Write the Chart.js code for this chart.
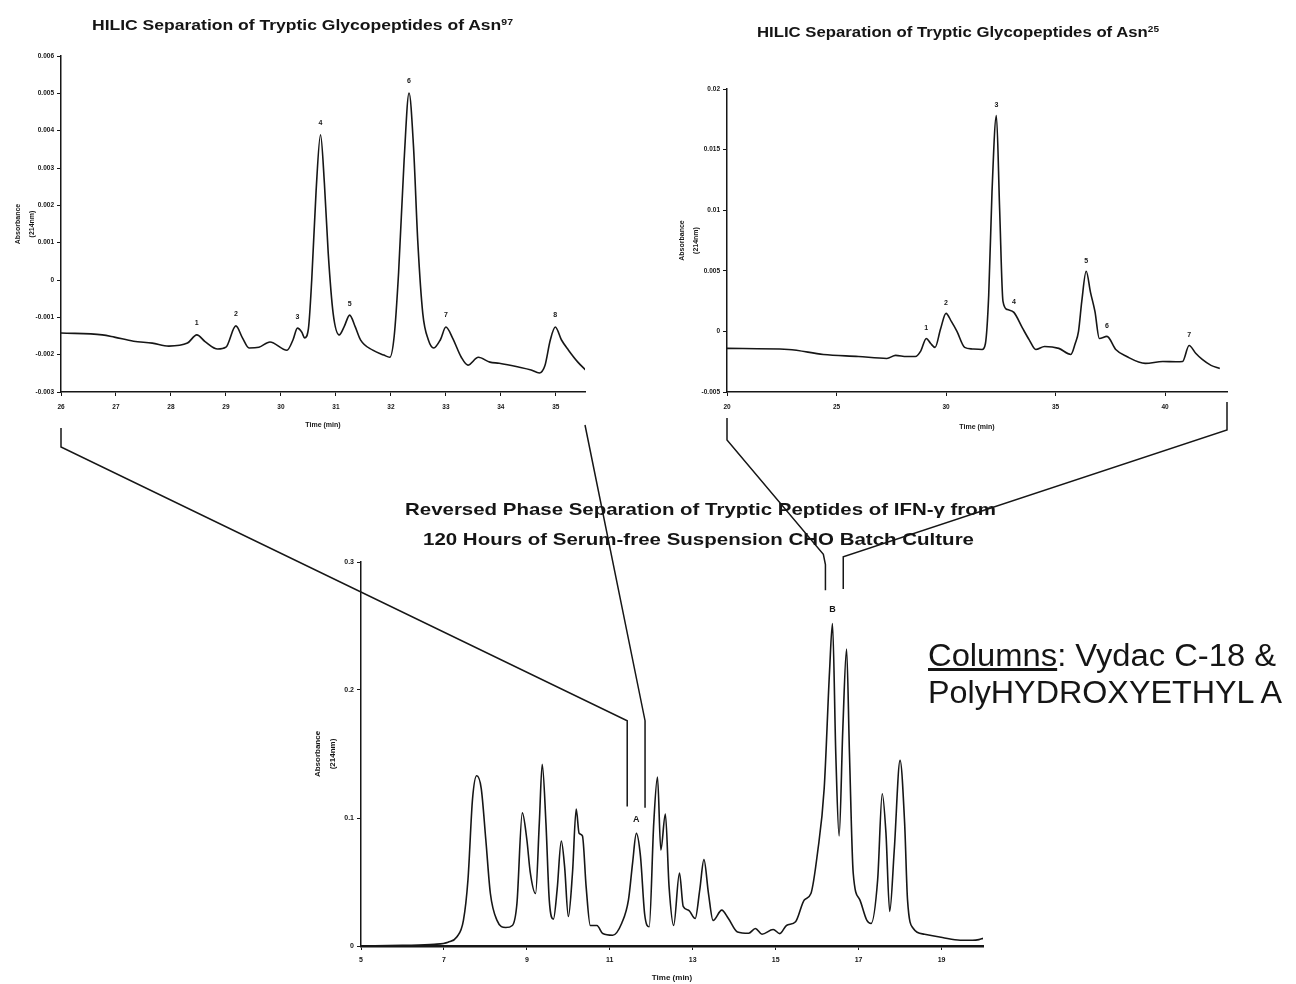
<!DOCTYPE html>
<html>
<head>
<meta charset="utf-8">
<script src="https://cdn.jsdelivr.net/npm/chart.js@4.4.1/dist/chart.umd.min.js"></script>
<style>
  body { margin: 0; background: #fff; }
  #page { position: relative; width: 1296px; height: 984px; overflow: hidden; font-family: "Liberation Sans", Arial, sans-serif; color: #151515; }
  #page canvas { position: absolute; }
  .txt { position: absolute; white-space: nowrap; line-height: 1; transform-origin: left center; }
  .b { font-weight: bold; }
  sup { font-size: 0.6em; vertical-align: 0.6em; line-height: 0; }
</style>
</head>
<body>
<div id="page">
  <canvas id="hilic97" width="600" height="404" style="left:0;top:36px;width:600px;height:404px"></canvas>
  <canvas id="hilic25" width="585" height="380" style="left:660px;top:60px;width:585px;height:380px"></canvas>
  <canvas id="rp" width="716" height="439" style="left:284px;top:545px;width:716px;height:439px"></canvas>
  <canvas id="links" width="1296" height="984" style="left:0;top:0;width:1296px;height:984px;pointer-events:none"></canvas>

  <div class="txt b" data-w="421" style="left:92px;top:17px;font-size:15px">HILIC Separation of Tryptic Glycopeptides of Asn<sup>97</sup></div>
  <div class="txt b" data-w="402" style="left:757px;top:24px;font-size:15px">HILIC Separation of Tryptic Glycopeptides of Asn<sup>25</sup></div>
  <div class="txt b" data-w="591" style="left:405px;top:501px;font-size:17px">Reversed Phase Separation of Tryptic Peptides of IFN-γ from</div>
  <div class="txt b" data-w="551" style="left:423px;top:531px;font-size:17px">120 Hours of Serum-free Suspension CHO Batch Culture</div>
  <div class="txt" data-w="348" style="left:928px;top:640px;font-size:31px"><u>Columns</u>: Vydac C-18 &amp;</div>
  <div class="txt" data-w="354" style="left:928px;top:677px;font-size:31px">PolyHYDROXYETHYL A</div>
</div>
<script>
// HILIC, Asn97 glycopeptides
const leftTime = [26.00, 26.75, 26.97, 27.32, 27.66, 27.96, 28.30, 28.47, 28.62, 28.85, 29.00, 29.18, 29.30, 29.42, 29.60, 29.80,
  30.11, 30.22, 30.30, 30.38, 30.43, 30.50, 30.56, 30.64, 30.72, 30.79, 30.86, 30.95, 31.06, 31.15, 31.25, 31.35, 31.45, 31.67,
  31.87, 31.98, 32.06, 32.14, 32.24, 32.33, 32.41, 32.49, 32.58, 32.68, 32.78, 32.90, 33.00, 33.12, 33.28, 33.40, 33.59, 33.80,
  33.97, 34.32, 34.55, 34.70, 34.80, 34.90, 34.99, 35.10, 35.23, 35.40, 35.54];
const leftAbs = [-0.00142, -0.00147, -0.00153, -0.00164, -0.00169, -0.00177, -0.00169, -0.00147, -0.00165, -0.00185, -0.00180,
  -0.00123, -0.00155, -0.00182, -0.00180, -0.00166, -0.00188, -0.00160, -0.00129, -0.00140, -0.00155, -0.00130, 0.00000, 0.00240,
  0.00389, 0.00260, 0.00072, -0.00090, -0.00147, -0.00125, -0.00094, -0.00125, -0.00161, -0.00188, -0.00201, -0.00207, -0.00150,
  0.00020, 0.00320, 0.00501, 0.00360, 0.00100, -0.00090, -0.00160, -0.00182, -0.00160, -0.00126, -0.00155, -0.00207, -0.00228,
  -0.00207, -0.00220, -0.00223, -0.00233, -0.00241, -0.00249, -0.00230, -0.00160, -0.00126, -0.00160, -0.00188, -0.00220, -0.00241];
const leftXTicks = [26, 27, 28, 29, 30, 31, 32, 33, 34, 35];
const leftYTicks = [-0.003, -0.002, -0.001, 0, 0.001, 0.002, 0.003, 0.004, 0.005, 0.006];
const leftPeakTimes = [28.47, 29.18, 30.30, 30.72, 31.25, 32.33, 33.00, 34.99];
const leftPeakNames = ["1", "2", "3", "4", "5", "6", "7", "8"];

// HILIC, Asn25 glycopeptides
const rightTime = [20.0, 22.8, 24.4, 26.0, 27.3, 27.7, 28.2, 28.6, 28.85, 29.1, 29.3, 29.5, 29.75, 30.0, 30.25, 30.5, 30.85, 31.2,
  31.65, 31.8, 31.95, 32.1, 32.3, 32.45, 32.6, 32.8, 33.1, 33.5, 33.8, 34.1, 34.5, 35.15, 35.7, 35.9, 36.05, 36.2, 36.4, 36.6,
  36.8, 37.0, 37.35, 37.75, 38.25, 39.1, 39.9, 40.5, 40.8, 41.1, 41.4, 41.7, 42.1, 42.5];
const rightAbs = [-0.00140, -0.00149, -0.00190, -0.00207, -0.00223, -0.00198, -0.00207, -0.00207, -0.00160, -0.00058, -0.00100,
  -0.00132, 0.00020, 0.00149, 0.00080, 0.00000, -0.00132, -0.00145, -0.00149, -0.00100, 0.00300, 0.01150, 0.01780, 0.01000,
  0.00250, 0.00180, 0.00157, 0.00025, -0.00070, -0.00149, -0.00124, -0.00140, -0.00190, -0.00100, 0.00000, 0.00250, 0.00496,
  0.00320, 0.00165, -0.00058, -0.00041, -0.00149, -0.00207, -0.00264, -0.00248, -0.00250, -0.00248, -0.00116, -0.00180,
  -0.00231, -0.00280, -0.00306];
const rightXTicks = [20, 25, 30, 35, 40];
const rightYTicks = [-0.005, 0, 0.005, 0.01, 0.015, 0.02];
const rightPeakTimes = [29.1, 30.0, 32.3, 33.1, 36.4, 37.35, 41.1];
const rightPeakNames = ["1", "2", "3", "4", "5", "6", "7"];

// reversed phase, whole digest
const rpTime = [5.00, 6.00, 6.77, 7.10, 7.31, 7.47, 7.58, 7.69, 7.79, 7.90, 8.01, 8.12, 8.28, 8.49, 8.65, 8.76, 8.89, 9.00,
  9.08, 9.21, 9.30, 9.37, 9.46, 9.54, 9.64, 9.73, 9.83, 9.91, 10.00, 10.10, 10.19, 10.26, 10.34, 10.43, 10.53, 10.69, 10.83,
  11.07, 11.29, 11.45, 11.55, 11.64, 11.74, 11.84, 11.95, 12.06, 12.15, 12.23, 12.34, 12.43, 12.54, 12.68, 12.77, 12.90, 13.06,
  13.17, 13.27, 13.38, 13.49, 13.70, 13.86, 14.08, 14.35, 14.51, 14.67, 14.94, 15.10, 15.26, 15.48, 15.69, 15.85, 16.01, 16.17,
  16.30, 16.37, 16.45, 16.53, 16.62, 16.71, 16.78, 16.87, 17.03, 17.20, 17.30, 17.46, 17.57, 17.66, 17.75, 17.86, 18.00, 18.11,
  18.18, 18.32, 18.59, 19.02, 19.45, 19.75, 19.90, 20.00];
const rpAbs = [0, 0.0005, 0.0013, 0.003, 0.007, 0.020, 0.052, 0.115, 0.133, 0.123, 0.083, 0.041, 0.020, 0.0144, 0.016, 0.033,
  0.104, 0.083, 0.058, 0.041, 0.096, 0.142, 0.096, 0.036, 0.021, 0.044, 0.082, 0.062, 0.023, 0.057, 0.107, 0.088, 0.086, 0.046,
  0.016, 0.016, 0.0097, 0.0084, 0.018, 0.036, 0.065, 0.088, 0.070, 0.025, 0.015, 0.096, 0.132, 0.075, 0.103, 0.046, 0.016,
  0.057, 0.031, 0.028, 0.0215, 0.044, 0.0675, 0.041, 0.020, 0.028, 0.0215, 0.011, 0.010, 0.0137, 0.0092, 0.0129, 0.0097, 0.016,
  0.019, 0.036, 0.041, 0.073, 0.123, 0.215, 0.252, 0.150, 0.086, 0.170, 0.232, 0.150, 0.057, 0.036, 0.020, 0.0176, 0.052,
  0.119, 0.088, 0.027, 0.075, 0.145, 0.096, 0.036, 0.0137, 0.0092, 0.0066, 0.0045, 0.0045, 0.0050, 0.0060];
const rpXTicks = [5, 7, 9, 11, 13, 15, 17, 19];
const rpYTicks = [0, 0.1, 0.2, 0.3];
const rpPeakTimes = [11.64, 16.37];
const rpPeakNames = ["A", "B"];

const INK = "#161616";
Chart.defaults.font.family = '"Liberation Sans", Arial, sans-serif';
Chart.defaults.color = INK;
Chart.defaults.animation = false;

// writes a number above the nearest point of each labelled peak
const peakLabels = {
  id: "peakLabels",
  afterDatasetsDraw(chart, args, opts) {
    const ctx = chart.ctx;
    const pts = chart.data.datasets[0].data;
    ctx.save();
    ctx.font = opts.font;
    ctx.fillStyle = INK;
    ctx.textAlign = "center";
    ctx.textBaseline = "bottom";
    opts.times.forEach((t, i) => {
      let best = pts[0];
      pts.forEach(p => { if (Math.abs(p.x - t) < Math.abs(best.x - t)) best = p; });
      ctx.fillText(opts.names[i], chart.scales.x.getPixelForValue(t), chart.scales.y.getPixelForValue(best.y) - opts.gap);
    });
    ctx.restore();
  }
};

function trace(times, vals) {
  return [{
    data: times.map((t, i) => ({ x: t, y: vals[i] })),
    borderColor: INK,
    borderWidth: 1.6,
    pointRadius: 0,
    cubicInterpolationMode: "monotone",
    fill: false
  }];
}

function makeChart(id, cfg) {
  return new Chart(document.getElementById(id), {
    type: "line",
    data: { datasets: trace(cfg.times, cfg.vals) },
    plugins: [peakLabels],
    options: {
      responsive: false,
      layout: { padding: { top: cfg.padTop, right: cfg.padRight, left: 0, bottom: 0 } },
      plugins: {
        legend: { display: false },
        tooltip: { enabled: false },
        peakLabels: { times: cfg.peakTimes, names: cfg.peakNames, font: cfg.peakFont, gap: cfg.gap }
      },
      scales: {
        x: {
          type: "linear",
          min: cfg.xMin, max: cfg.xMax,
          afterBuildTicks: s => { s.ticks = cfg.xTicks.map(v => ({ value: v })); },
          afterFit: s => { s.height = cfg.xHeight; },
          ticks: { font: { size: cfg.tickSize, weight: "bold" }, padding: cfg.xTickPad, maxRotation: 0, autoSkip: false },
          grid: { drawOnChartArea: false, color: INK, tickLength: 4, lineWidth: 1 },
          border: { color: INK, width: cfg.xBorder },
          title: { display: true, text: "Time (min)", font: { size: cfg.titleSize, weight: "bold" }, padding: { top: 0, bottom: cfg.xTitlePad } }
        },
        y: {
          min: cfg.yMin, max: cfg.yMax,
          afterBuildTicks: s => { s.ticks = cfg.yTicks.map(v => ({ value: v })); },
          afterFit: s => { s.width = cfg.yWidth; },
          ticks: { font: { size: cfg.tickSize, weight: "bold" }, padding: 3, callback: cfg.yFmt },
          grid: { drawOnChartArea: false, color: INK, tickLength: 4, lineWidth: 1 },
          border: { color: INK, width: 1.5 },
          title: {
            display: true, text: ["Absorbance", "(214nm)"],
            font: { size: cfg.titleSize, weight: "bold", lineHeight: cfg.yTitleLH },
            padding: { top: cfg.yTitlePad, bottom: 0 }
          }
        }
      }
    }
  });
}

const milli = v => (v === 0 ? "0" : String(+v.toFixed(3)));

const left = makeChart("hilic97", {
  times: leftTime, vals: leftAbs, xTicks: leftXTicks, yTicks: leftYTicks,
  xMin: 26, xMax: 35.53, yMin: -0.003, yMax: 0.006,
  peakTimes: leftPeakTimes, peakNames: leftPeakNames, peakFont: "bold 7px 'Liberation Sans', Arial", gap: 8,
  padTop: 20, padRight: 15, xHeight: 48, yWidth: 61, tickSize: 6.5, titleSize: 7,
  xTickPad: 7, xTitlePad: 11, xBorder: 1.6, yTitleLH: 2, yTitlePad: 11, yFmt: milli
});

const right = makeChart("hilic25", {
  times: rightTime, vals: rightAbs, xTicks: rightXTicks, yTicks: rightYTicks,
  xMin: 20, xMax: 42.83, yMin: -0.005, yMax: 0.02,
  peakTimes: rightPeakTimes, peakNames: rightPeakNames, peakFont: "bold 7px 'Liberation Sans', Arial", gap: 7,
  padTop: 29, padRight: 18, xHeight: 48, yWidth: 67, tickSize: 6.5, titleSize: 7,
  xTickPad: 7, xTitlePad: 9, xBorder: 1.6, yTitleLH: 2, yTitlePad: 15, yFmt: milli
});

const rp = makeChart("rp", {
  times: rpTime, vals: rpAbs, xTicks: rpXTicks, yTicks: rpYTicks,
  xMin: 5, xMax: 20, yMin: 0, yMax: 0.3,
  peakTimes: rpPeakTimes, peakNames: rpPeakNames, peakFont: "bold 9px 'Liberation Sans', Arial", gap: 9,
  padTop: 17, padRight: 17, xHeight: 38, yWidth: 77, tickSize: 7, titleSize: 8,
  xTickPad: 6, xTitlePad: 1, xBorder: 2.6, yTitleLH: 1.9, yTitlePad: 26, yFmt: v => (v === 0 ? "0" : v.toFixed(1))
});

// squeeze each caption to the width it has in the figure
document.querySelectorAll("[data-w]").forEach(el => {
  const w = el.getBoundingClientRect().width;
  el.style.transform = "scaleX(" + (el.dataset.w / w) + ")";
});

// zoom lines from the HILIC axes down to peaks A and B
function at(chart, x, y) {
  const c = chart.canvas;
  return [c.offsetLeft + chart.scales.x.getPixelForValue(x), c.offsetTop + chart.scales.y.getPixelForValue(y)];
}
function under(chart, side, drop) {
  const c = chart.canvas, a = chart.chartArea;
  return [c.offsetLeft + (side === "l" ? a.left : a.right), c.offsetTop + a.bottom + drop];
}

const links = [
  [under(left, "l", 36), under(left, "l", 55), at(rp, 11.42, 0.176), at(rp, 11.42, 0.109)],
  [under(left, "r", 33), at(rp, 11.85, 0.176), at(rp, 11.85, 0.108)],
  [under(right, "l", 26), under(right, "l", 48), at(rp, 16.15, 0.306), at(rp, 16.2, 0.298), at(rp, 16.2, 0.278)],
  [under(right, "r", 10), under(right, "r", 38), at(rp, 16.63, 0.304), at(rp, 16.63, 0.279)]
];

const lc = document.getElementById("links").getContext("2d");
lc.strokeStyle = INK;
lc.lineWidth = 1.5;
links.forEach(path => {
  lc.beginPath();
  path.forEach((p, i) => (i ? lc.lineTo(p[0], p[1]) : lc.moveTo(p[0], p[1])));
  lc.stroke();
});
</script>
</body>
</html>
